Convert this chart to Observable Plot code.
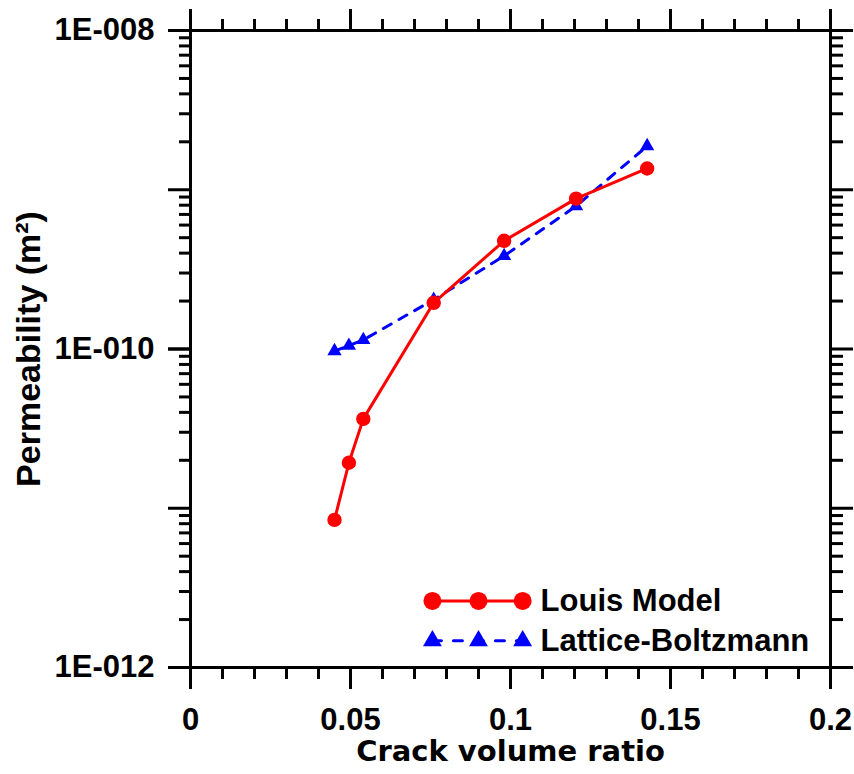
<!DOCTYPE html>
<html>
<head>
<meta charset="utf-8">
<script src="https://cdn.jsdelivr.net/npm/d3@7"></script>
<script src="https://cdn.jsdelivr.net/npm/@observablehq/plot@0.6"></script>
<style>
  html, body { margin: 0; padding: 0; background: #fff; }
</style>
</head>
<body>
<div id="chart"></div>
<script>
// ---- data ----
const crackRatio = [0.045, 0.0495, 0.054, 0.076, 0.098, 0.1205, 0.1427];
const louisModel = [8.45e-12, 1.93e-11, 3.64e-11, 1.95e-10, 4.78e-10, 8.8e-10, 1.36e-9];
const latticeBoltzmann = [9.7e-11, 1.05e-10, 1.14e-10, 2.04e-10, 3.84e-10, 7.9e-10, 1.88e-9];
const seriesNames = ["Louis Model", "Lattice-Boltzmann"];

const xMajorTicks = [0, 0.05, 0.1, 0.15, 0.2];
const xTickLabels = ["0", "0.05", "0.1", "0.15", "0.2"];
const xMinorTicks = [0.01, 0.02, 0.03, 0.04, 0.06, 0.07, 0.08, 0.09, 0.11, 0.12, 0.13, 0.14, 0.16, 0.17, 0.18, 0.19];
const yMajorTicks = [1e-12, 1e-11, 1e-10, 1e-9, 1e-8];
const yLabeledTicks = [1e-12, 1e-10, 1e-8];
const yTickLabels = ["1E-012", "1E-010", "1E-008"];
const yMinorMultipliers = [2, 3, 4, 5, 6, 7, 8, 9];
const yMinorTicks = yMajorTicks.slice(0, -1).flatMap(d => yMinorMultipliers.map(m => m * d));

const xTitle = "Crack volume ratio";
const yTitle = "Permeability (m\u00B2)";

// ---- tables ----
const louis = crackRatio.map((x, i) => ({x, y: louisModel[i]}));
const lattice = crackRatio.map((x, i) => ({x, y: latticeBoltzmann[i]}));

// legend layout (in chart coordinates)
const legX = [0.0756, 0.09, 0.1038];
const legTextX = 0.1094;
const legY = [2.62e-12, 1.47e-12];
const louisLeg = legX.map(x => ({x, y: legY[0]}));
const latticeLeg = legX.map(x => ({x, y: legY[1]}));

const AR = "Liberation Sans, Arial, Helvetica, sans-serif";
const DV = "DejaVu Sans, Verdana, sans-serif";
const RED = "#ff0000";
const BLUE = "#0000ff";

const noText = () => "";

const chart = Plot.plot({
  width: 854,
  height: 774,
  marginLeft: 190,
  marginRight: 24,
  marginTop: 30,
  marginBottom: 107,
  style: {fontFamily: AR, fontWeight: "bold", fontSize: "30px", background: "#fff", color: "#000"},
  x: {domain: [0, 0.2]},
  y: {type: "log", domain: [1e-12, 1e-8]},
  marks: [
    // axes: bottom
    Plot.axisX({anchor: "bottom", ticks: xMinorTicks, tickSize: 12, strokeWidth: 3, tickFormat: noText, label: null}),
    Plot.axisX({anchor: "bottom", ticks: xMajorTicks, tickSize: 22, tickPadding: 18, strokeWidth: 3,
      tickFormat: d => xTickLabels[xMajorTicks.indexOf(d)], label: null, fontSize: 31, fontWeight: "bold", fontFamily: AR}),
    // top
    Plot.axisX({anchor: "top", ticks: xMinorTicks, tickSize: 12, strokeWidth: 3, tickFormat: noText, label: null}),
    Plot.axisX({anchor: "top", ticks: xMajorTicks, tickSize: 22, strokeWidth: 3, tickFormat: noText, label: null}),
    // left
    Plot.axisY({anchor: "left", ticks: yMinorTicks, tickSize: 11, strokeWidth: 3, tickFormat: noText, label: null}),
    Plot.axisY({anchor: "left", ticks: yMajorTicks, tickSize: 22, strokeWidth: 3, tickFormat: noText, label: null}),
    Plot.axisY({anchor: "left", ticks: yLabeledTicks, tickSize: 22, tickPadding: 14, strokeWidth: 3,
      tickFormat: d => yTickLabels[yLabeledTicks.indexOf(d)], label: null, fontSize: 31, fontWeight: "bold", fontFamily: AR}),
    // right
    Plot.axisY({anchor: "right", ticks: yMinorTicks, tickSize: 12, strokeWidth: 3, tickFormat: noText, label: null}),
    Plot.axisY({anchor: "right", ticks: yMajorTicks, tickSize: 22, strokeWidth: 3, tickFormat: noText, label: null}),
    Plot.frame({stroke: "#000", strokeWidth: 3}),

    // Lattice-Boltzmann
    Plot.line(lattice, {x: "x", y: "y", stroke: BLUE, strokeWidth: 3, strokeDasharray: "9,9"}),
    Plot.dot(lattice, {x: "x", y: "y", symbol: "triangle", r: 5.3, fill: BLUE, stroke: null}),
    // Louis Model
    Plot.line(louis, {x: "x", y: "y", stroke: RED, strokeWidth: 3}),
    Plot.dot(louis, {x: "x", y: "y", r: 7.2, fill: RED, stroke: null}),

    // legend
    Plot.line(louisLeg, {x: "x", y: "y", stroke: RED, strokeWidth: 3}),
    Plot.dot(louisLeg, {x: "x", y: "y", r: 9, fill: RED, stroke: null}),
    Plot.line(latticeLeg, {x: "x", y: "y", stroke: BLUE, strokeWidth: 3, strokeDasharray: "9,12"}),
    Plot.dot(latticeLeg, {x: "x", y: "y", symbol: "triangle", r: 7, fill: BLUE, stroke: null}),
    Plot.text(seriesNames, {x: () => legTextX, y: (d, i) => legY[i], text: d => d, textAnchor: "start",
      lineAnchor: "middle", fontSize: 31, fontWeight: "bold", fontFamily: AR, fill: "#000"}),

    // axis titles
    Plot.text([xTitle], {frameAnchor: "bottom", dy: 84, lineAnchor: "middle", textAnchor: "middle", text: d => d,
      fontSize: 29, fontWeight: "bold", fontFamily: DV, fill: "#000"}),
    Plot.text([yTitle], {frameAnchor: "left", dx: -161, rotate: -90, lineAnchor: "middle", textAnchor: "middle", text: d => d,
      fontSize: 34, fontWeight: "bold", fontFamily: AR, fill: "#000"})
  ]
});

document.getElementById("chart").appendChild(chart);
</script>
</body>
</html>
